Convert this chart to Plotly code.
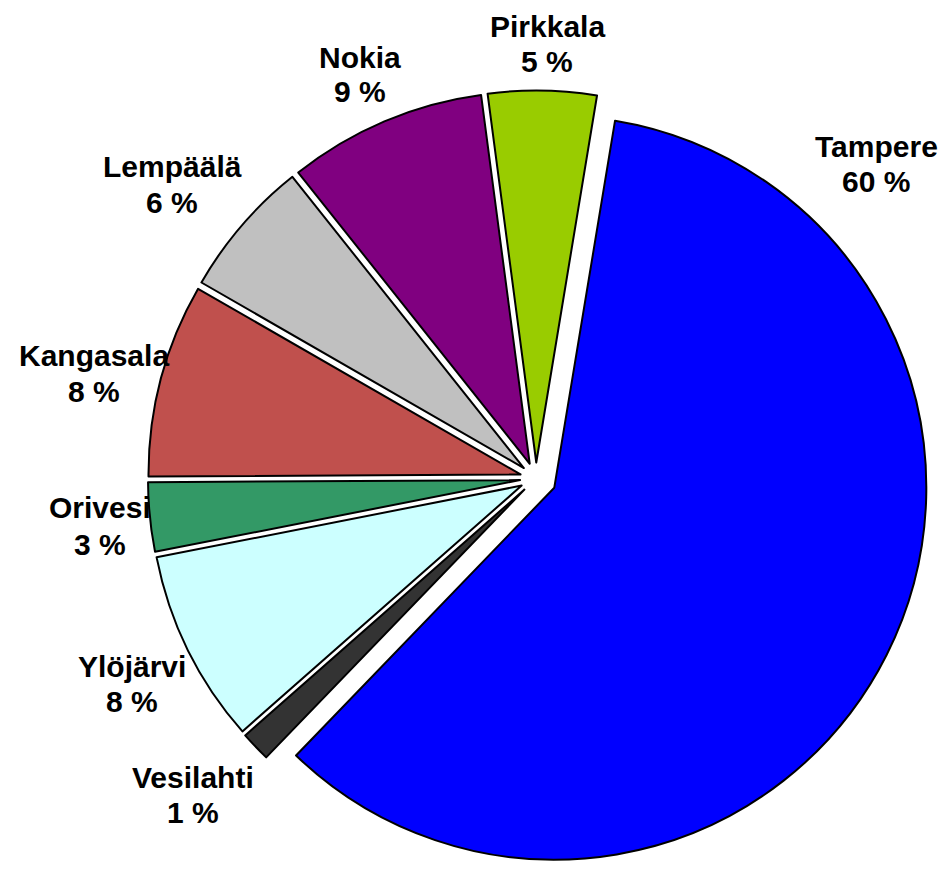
import plotly.graph_objects as go

labels = ["Tampere", "Vesilahti", "Ylöjärvi", "Orivesi", "Kangasala", "Lempäälä", "Nokia", "Pirkkala"]
values = [59.6, 1.3, 8.4, 3.0, 8.4, 6.0, 8.6, 4.7]
colors = ["#0000FF", "#333333", "#CCFFFF", "#339966", "#C0504D", "#C0C0C0", "#800080", "#99CC00"]
pulls = [0.055, 0.043, 0.043, 0.043, 0.043, 0.043, 0.043, 0.043]

W, H = 947, 869
OFF = 8  # page body margin offset in pixels

# label block positions in page pixels (x centre, y of first line, y of second line)
label_pos = {
    "Tampere": (876, 146, 181),
    "Vesilahti": (193, 777, 812),
    "Ylöjärvi": (132, 666, 701),
    "Orivesi": (100, 507, 544),
    "Kangasala": (94, 356, 391),
    "Lempäälä": (172, 166, 202),
    "Nokia": (360, 57, 92),
    "Pirkkala": (547, 27, 61),
}

# pie domain box in page pixels (left, top, right, bottom)
dom_l, dom_t, dom_r, dom_b = 143.5, 86, 928.5, 871


def px(x):
    return (x - OFF) / W


def py(y):
    return 1 - (y - OFF) / H


total = sum(values)
pcts = [f"{round(v / total * 100)} %" for v in values]

fig = go.Figure(go.Pie(
    labels=labels,
    values=values,
    textinfo="none",
    sort=False,
    direction="clockwise",
    rotation=9.4,
    pull=pulls,
    marker=dict(colors=colors, line=dict(color="black", width=2)),
    showlegend=False,
    hoverinfo="label+percent",
    domain=dict(x=[px(dom_l), px(dom_r)], y=[max(0, py(dom_b)), py(dom_t)]),
))

font = dict(family="Liberation Sans, Arial, sans-serif", size=30, color="black")
for lab, pct in zip(labels, pcts):
    x, y1, y2 = label_pos[lab]
    for txt, yy in ((lab, y1), (pct, y2)):
        fig.add_annotation(
            text=f"<b>{txt}</b>", x=px(x), y=py(yy), xref="paper", yref="paper",
            xanchor="center", yanchor="middle", showarrow=False, font=font,
        )

fig.update_layout(
    width=W, height=H,
    paper_bgcolor="white", plot_bgcolor="white",
    margin=dict(l=0, r=0, t=0, b=0),
)

fig.write_html("out.html")
